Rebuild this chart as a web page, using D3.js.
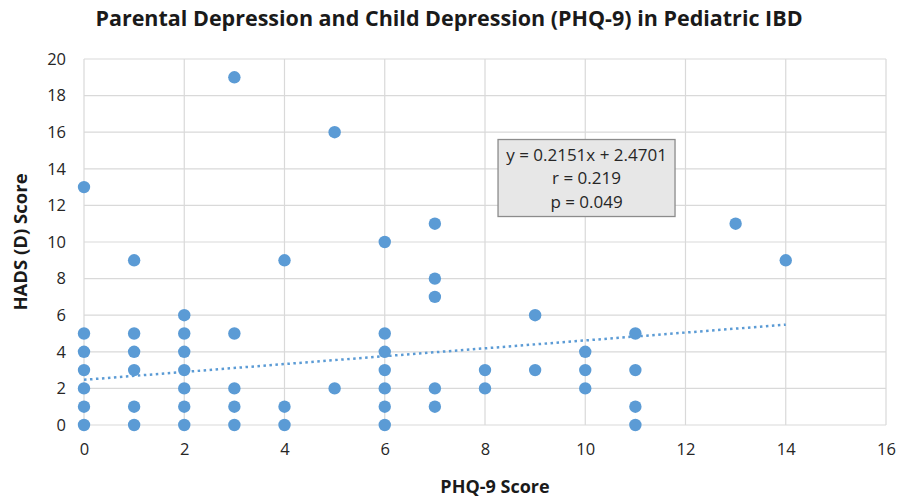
<!DOCTYPE html>
<html>
<head>
<meta charset="utf-8">
<script src="https://cdn.jsdelivr.net/npm/d3@7"></script>
<style>
  html, body { margin: 0; padding: 0; background: #fff; }
  svg { display: block; font-family: "Open Sans", "Noto Sans", sans-serif; }
</style>
</head>
<body>
<svg id="chart" width="898" height="497"></svg>
<script>
// PHQ-9 (child) vs HADS depression (parent) scores, one entry per participant
const phq9 = [
  0, 0, 0, 0, 0, 0, 0,
  1, 1, 1, 1, 1, 1,
  2, 2, 2, 2, 2, 2, 2,
  3, 3, 3, 3, 3,
  4, 4, 4,
  5, 5,
  6, 6, 6, 6, 6, 6, 6,
  7, 7, 7, 7, 7,
  8, 8,
  9, 9,
  10, 10, 10,
  11, 11, 11, 11,
  13,
  14
];
const hads = [
  0, 1, 2, 3, 4, 5, 13,
  0, 1, 3, 4, 5, 9,
  0, 1, 2, 3, 4, 5, 6,
  0, 1, 2, 5, 19,
  0, 1, 9,
  2, 16,
  0, 1, 2, 3, 4, 5, 10,
  1, 2, 7, 8, 11,
  2, 3,
  3, 6,
  2, 3, 4,
  0, 1, 3, 5,
  11,
  9
];

// Linear trend fitted to the scores
const slope = 0.2151;
const intercept = 2.4701;
const trendRange = [0, 14];
const statsLines = ["y = 0.2151x + 2.4701", "r = 0.219", "p = 0.049"];

const xTicks = d3.range(0, 17, 2);
const yTicks = d3.range(0, 21, 2);

const title = "Parental Depression and Child Depression (PHQ-9) in Pediatric IBD";
const xTitle = "PHQ-9 Score";
const yTitle = "HADS (D) Score";

const svg = d3.select("#chart");
const margin = { left: 84, right: 12, top: 59, bottom: 72 };
const W = 898, H = 497;

const x = d3.scaleLinear().domain([0, 16]).range([margin.left, W - margin.right]);
const y = d3.scaleLinear().domain([0, 20]).range([H - margin.bottom, margin.top]);

const gridColor = "#d9d9d9";
const pointColor = "#5b9bd5";
const textColor = "#262626";

// Gridlines
svg.append("g")
  .selectAll("line")
  .data(xTicks)
  .join("line")
  .attr("x1", d => x(d)).attr("x2", d => x(d))
  .attr("y1", y(0)).attr("y2", y(20))
  .attr("stroke", gridColor).attr("stroke-width", 1.2);

svg.append("g")
  .selectAll("line")
  .data(yTicks)
  .join("line")
  .attr("x1", x(0)).attr("x2", x(16))
  .attr("y1", d => y(d)).attr("y2", d => y(d))
  .attr("stroke", gridColor).attr("stroke-width", 1.2);

// Axes (labels only, lines come from the grid)
const xAxis = svg.append("g")
  .attr("transform", `translate(0,${y(0)})`)
  .call(d3.axisBottom(x).tickValues(xTicks).tickSize(0).tickPadding(18).tickFormat(d3.format("d")));
xAxis.select(".domain").remove();
xAxis.selectAll("text")
  .attr("font-size", 16.5).attr("fill", textColor)
  .attr("font-family", "'Open Sans', sans-serif");

const yAxis = svg.append("g")
  .attr("transform", `translate(${x(0)},0)`)
  .call(d3.axisLeft(y).tickValues(yTicks).tickSize(0).tickPadding(18).tickFormat(d3.format("d")));
yAxis.select(".domain").remove();
yAxis.selectAll("text")
  .attr("font-size", 16.5).attr("fill", textColor)
  .attr("font-family", "'Open Sans', sans-serif");

// Trend line (dotted)
svg.append("line")
  .attr("x1", x(trendRange[0])).attr("y1", y(slope * trendRange[0] + intercept))
  .attr("x2", x(trendRange[1])).attr("y2", y(slope * trendRange[1] + intercept))
  .attr("stroke", pointColor).attr("stroke-width", 2.5)
  .attr("stroke-dasharray", "2.5,3.5");

// Data points
svg.append("g")
  .selectAll("circle")
  .data(phq9.map((v, i) => [v, hads[i]]))
  .join("circle")
  .attr("cx", d => x(d[0]))
  .attr("cy", d => y(d[1]))
  .attr("r", 6.2)
  .attr("fill", pointColor);

// Regression statistics box
const box = svg.append("g").attr("transform", `translate(${x(8.26)},${y(15.6)})`);
box.append("rect")
  .attr("width", 177).attr("height", 77)
  .attr("fill", "#e7e7e7").attr("stroke", "#8c8c8c").attr("stroke-width", 1.3);
box.selectAll("text")
  .data(statsLines)
  .join("text")
  .attr("x", 88.5)
  .attr("y", (d, i) => 21 + i * 23.5)
  .attr("text-anchor", "middle")
  .attr("font-size", 17)
  .attr("fill", textColor)
  .text(d => d);

// Titles
svg.append("text")
  .attr("x", 449).attr("y", 26)
  .attr("text-anchor", "middle")
  .attr("font-size", 21.5).attr("font-weight", "bold").attr("fill", "#1a1a1a")
  .text(title);

svg.append("text")
  .attr("x", 495).attr("y", 493)
  .attr("text-anchor", "middle")
  .attr("font-size", 18).attr("font-weight", "bold").attr("fill", "#1a1a1a")
  .text(xTitle);

svg.append("text")
  .attr("transform", `translate(27,${y(10)}) rotate(-90)`)
  .attr("text-anchor", "middle")
  .attr("font-size", 18.5).attr("font-weight", "bold").attr("fill", "#1a1a1a")
  .text(yTitle);
</script>
</body>
</html>
